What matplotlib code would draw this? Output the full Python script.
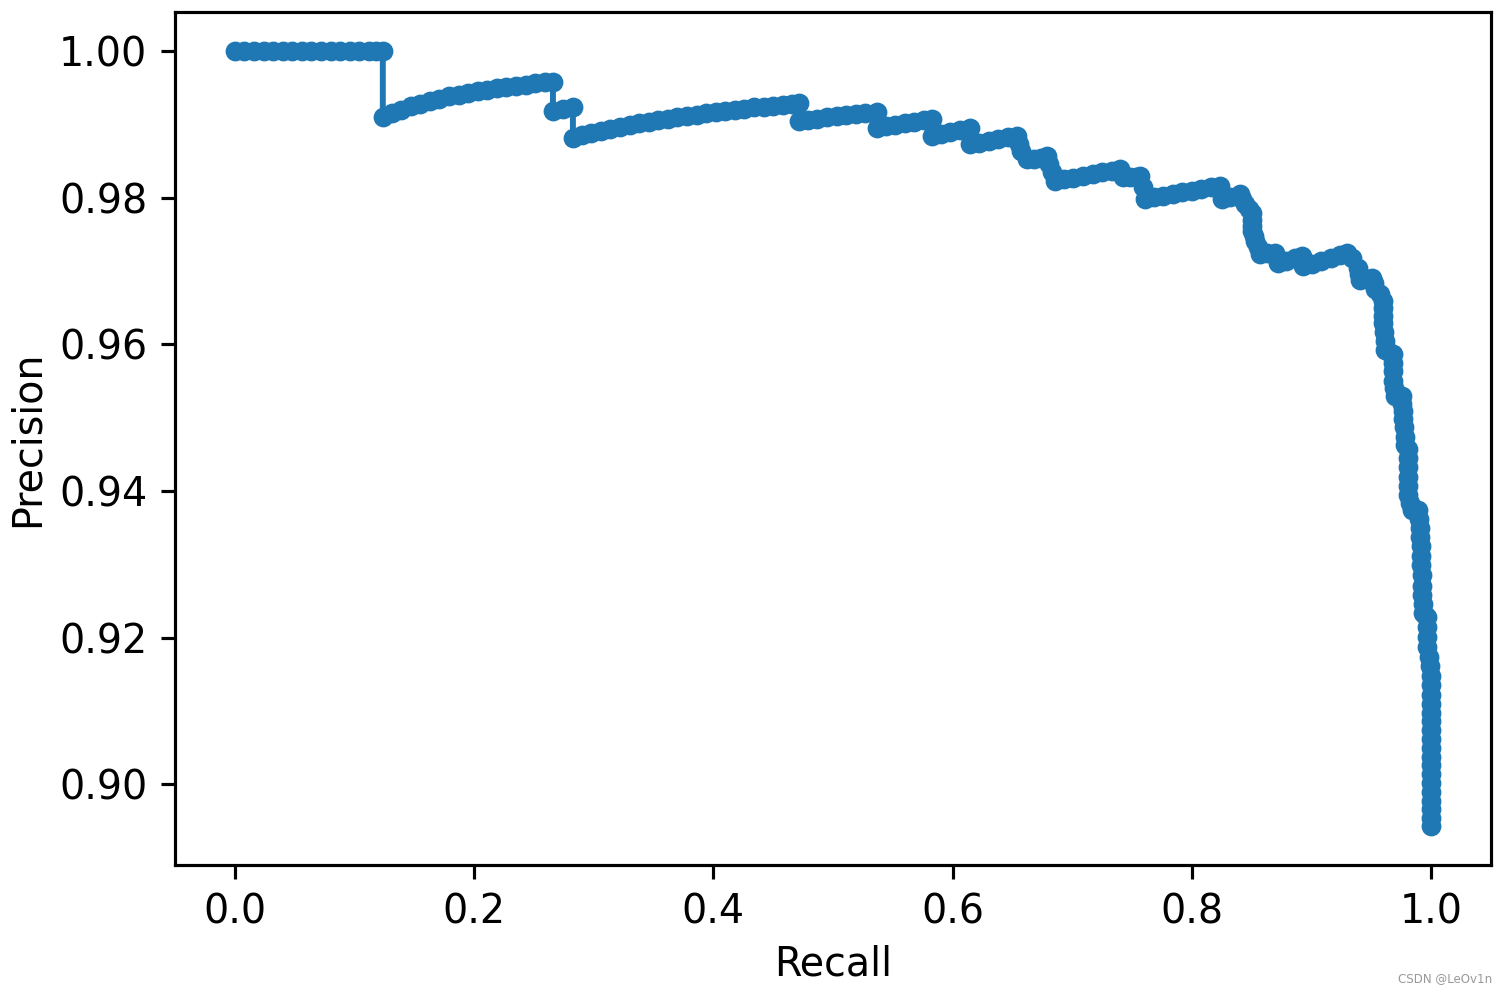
import matplotlib
matplotlib.use("Agg")
import matplotlib.pyplot as plt

recall = [
    0.000, 0.008, 0.016, 0.024, 0.032, 0.040, 0.048, 0.056, 0.064, 0.072, 0.080, 0.088, 0.096, 0.104, 0.112, 0.118, 0.1237,
    0.1237, 0.131, 0.139, 0.147, 0.155, 0.163, 0.171, 0.179, 0.187, 0.195, 0.203, 0.211, 0.219, 0.227, 0.235, 0.243, 0.251, 0.259, 0.2659,
    0.2659, 0.2743, 0.2826,
    0.2826, 0.290, 0.298, 0.306, 0.314, 0.322, 0.330, 0.338, 0.346, 0.354, 0.362, 0.370, 0.378, 0.386, 0.394, 0.402, 0.410, 0.418, 0.426, 0.434, 0.442, 0.450, 0.458, 0.466, 0.4716,
    0.4716, 0.479, 0.487, 0.495, 0.503, 0.511, 0.519, 0.527, 0.5365,
    0.5365, 0.544, 0.552, 0.560, 0.568, 0.576, 0.5825,
    0.5825, 0.590, 0.598, 0.606, 0.6145,
    0.6145, 0.622, 0.630, 0.638, 0.646, 0.6538,
    0.6555, 0.6575, 0.6620, 0.6680, 0.6740, 0.6790, 0.6805, 0.6830, 0.6856,
    0.693, 0.701, 0.709, 0.717, 0.725, 0.733, 0.740,
    0.7410, 0.7425, 0.7480, 0.7530, 0.7567, 0.7590, 0.7609,
    0.768, 0.776, 0.784, 0.792, 0.800, 0.808, 0.816, 0.8236,
    0.8240, 0.8250, 0.8320, 0.8403, 0.8420, 0.8445, 0.8480, 0.8503, 0.8503, 0.8503, 0.8505, 0.8515, 0.8528, 0.8550, 0.8570,
    0.8630, 0.8696, 0.8710, 0.8720, 0.8790, 0.8860, 0.8921, 0.8925, 0.8930, 0.9000, 0.9080, 0.9160, 0.9240, 0.9298,
    0.9340, 0.9390, 0.9400, 0.9406, 0.9460, 0.9504, 0.9520, 0.9532, 0.9570, 0.9601, 0.9601, 0.9601, 0.9601, 0.9605, 0.9610, 0.9615,
    0.9650, 0.9682, 0.9682, 0.9682, 0.9685, 0.9692, 0.9699, 0.9730, 0.9755, 0.9760, 0.9763, 0.9766, 0.9772, 0.9778, 0.9783,
    0.9808, 0.9808, 0.9808, 0.9808, 0.9808, 0.9808, 0.9825, 0.9839, 0.9865, 0.9891, 0.9900, 0.9905, 0.9908, 0.9912,
    0.9915, 0.9918, 0.9920, 0.9922, 0.9927, 0.9930, 0.9933, 0.9950, 0.9964, 0.9965, 0.9966, 0.9967, 0.9980, 0.9992, 0.9995, 0.9997,
    1.0, 1.0, 1.0, 1.0, 1.0, 1.0, 1.0, 1.0, 1.0, 1.0, 1.0, 1.0, 1.0, 1.0, 1.0, 1.0,
]

precision = [
    1.0, 1.0, 1.0, 1.0, 1.0, 1.0, 1.0, 1.0, 1.0, 1.0, 1.0, 1.0, 1.0, 1.0, 1.0, 1.0, 1.0,
    0.99100, 0.99150, 0.99199, 0.99242, 0.99281, 0.99316, 0.99348, 0.99377, 0.99403, 0.99427, 0.99450, 0.99471, 0.99490, 0.99508, 0.99524, 0.99540, 0.99555, 0.99568, 0.99579,
    0.99181, 0.99206, 0.99229,
    0.98817, 0.98847, 0.98878, 0.98907, 0.98934, 0.98960, 0.98985, 0.99009, 0.99032, 0.99053, 0.99074, 0.99094, 0.99113, 0.99131, 0.99149, 0.99165, 0.99182, 0.99197, 0.99212, 0.99227, 0.99240, 0.99254, 0.99267, 0.99279, 0.99288,
    0.99045, 0.99060, 0.99076, 0.99091, 0.99106, 0.99121, 0.99136, 0.99151, 0.99168,
    0.98954, 0.98974, 0.98994, 0.99013, 0.99032, 0.99051, 0.99066,
    0.98840, 0.98868, 0.98896, 0.98924, 0.98952,
    0.98727, 0.98749, 0.98772, 0.98795, 0.98818, 0.98840,
    0.98730, 0.98630, 0.98520, 0.98530, 0.98545, 0.98560, 0.98460, 0.98350, 0.98226,
    0.98248, 0.98272, 0.98296, 0.98319, 0.98342, 0.98365, 0.98386,
    0.98330, 0.98275, 0.98280, 0.98285, 0.98290, 0.98140, 0.97981,
    0.98002, 0.98025, 0.98048, 0.98070, 0.98093, 0.98115, 0.98137, 0.98158,
    0.98070, 0.97981, 0.98010, 0.98049, 0.97980, 0.97913, 0.97850, 0.97790, 0.97700, 0.97610, 0.97544, 0.97470, 0.97408, 0.97320, 0.97231,
    0.97238, 0.97244, 0.97180, 0.97108, 0.97140, 0.97175, 0.97203, 0.97135, 0.97067, 0.97100, 0.97140, 0.97180, 0.97220, 0.97244,
    0.97180, 0.97040, 0.96960, 0.96881, 0.96895, 0.96907, 0.96830, 0.96753, 0.96680, 0.96596, 0.96500, 0.96390, 0.96284, 0.96170, 0.96050, 0.95921,
    0.95900, 0.95869, 0.95750, 0.95630, 0.95505, 0.95400, 0.95297, 0.95297, 0.95297, 0.95190, 0.95090, 0.94985, 0.94870, 0.94740, 0.94622,
    0.94570, 0.94450, 0.94320, 0.94190, 0.94070, 0.93947, 0.93840, 0.93738, 0.93738, 0.93738, 0.93620, 0.93500, 0.93375, 0.93250,
    0.93120, 0.92990, 0.92850, 0.92701, 0.92580, 0.92460, 0.92335, 0.92310, 0.92284, 0.92150, 0.92010, 0.91869, 0.91740, 0.91610, 0.91480, 0.91350,
    0.91220, 0.91100, 0.90980, 0.90860, 0.90740, 0.90620, 0.90500, 0.90380, 0.90260, 0.90140, 0.90020, 0.89900, 0.89780, 0.89660, 0.89540, 0.89430,
]

assert len(recall) == len(precision), (len(recall), len(precision))

dpi = 285
fig = plt.figure(figsize=(1503 / dpi, 997 / dpi), dpi=dpi)
ax = fig.add_axes([175 / 1503, 132 / 997, 1316 / 1503, 853 / 997])

# curva com marcadores, igual ao grafico original
ax.plot(recall, precision, marker='o', markersize=4.0, color='#1f77b4')

ax.set_xlabel("Recall", labelpad=3)
ax.set_ylabel("Precision", labelpad=3)

# marca d'agua no canto
fig.text(0.993, 0.012, "CSDN @LeOv1n", fontsize=3.0, color='#999999', ha='right', va='bottom')

fig.savefig("out.png", dpi=dpi)
